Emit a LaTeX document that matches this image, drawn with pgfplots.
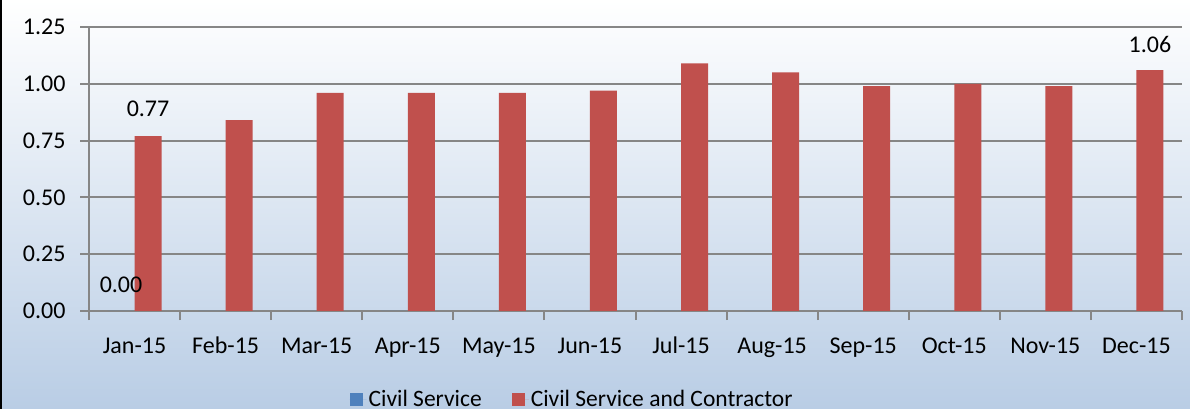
\documentclass[border=0pt]{standalone}
\usepackage{pgfplots}
\pgfplotsset{compat=1.18}
\usepackage{fontspec}
\setmainfont{Carlito}
\definecolor{csblue}{HTML}{4F81BD}
\definecolor{csred}{HTML}{C0504D}
\definecolor{gridgray}{HTML}{868686}
\definecolor{bgbot}{HTML}{B9CDE5}
\begin{document}
\begin{tikzpicture}[x=1pt,y=1pt]
\path[use as bounding box] (0,0) rectangle (1190,409);
\shade[top color=white, bottom color=bgbot] (0,0) rectangle (1190,409);
\fill[black] (0,0) rectangle (2,409);
\clip (0,0) rectangle (1190,409);
\begin{axis}[
  at={(89pt,98pt)}, anchor=south west,
  scale only axis, width=1093pt, height=284pt,
  xmin=-0.5, xmax=11.5, ymin=0, ymax=1.25,
  ybar=0pt, bar width=27pt,
  axis x line*=bottom, axis y line*=left,
  axis line style={gridgray, line width=2pt},
  ymajorgrids, major grid style={gridgray, line width=2pt},
  tick align=outside,
  ytick={0,0.25,0.5,0.75,1,1.25},
  major tick length=9pt, minor tick length=9pt,
  y tick style={gridgray, line width=2pt},
  xtick={0,...,11},
  xticklabels={Jan-15,Feb-15,Mar-15,Apr-15,May-15,Jun-15,Jul-15,Aug-15,Sep-15,Oct-15,Nov-15,Dec-15},
  major x tick style={draw=none},
  minor xtick={-0.5,0.5,...,11.5},
  minor x tick style={gridgray, line width=2pt},
  ticklabel style={font=\fontsize{24}{28}\selectfont, text=black},
  yticklabel style={xshift=-11pt, /pgf/number format/.cd, fixed, fixed zerofill, precision=2, assume math mode=true},
  xticklabel style={yshift=-13pt, text height=17pt, text depth=5pt},
  legend style={at={(0.442,-0.31)}, anchor=center, draw=none, fill=none,
    legend columns=2, font=\fontsize{23.5}{27}\selectfont,
    /tikz/every even column/.append style={column sep=28pt}},
  legend image code/.code={\fill[#1,draw=none] (0pt,-6.5pt) rectangle (13pt,6.5pt); \path (0pt,0pt) -- (17pt,0pt);},
  clip=false,
]
\addplot[fill=csblue, draw=none] coordinates {(0,0) (1,0) (2,0) (3,0) (4,0) (5,0) (6,0) (7,0) (8,0) (9,0) (10,0) (11,0)};
\addplot[fill=csred, draw=none] coordinates {(0,0.77) (1,0.84) (2,0.96) (3,0.96) (4,0.96) (5,0.97) (6,1.09) (7,1.05) (8,0.99) (9,1.00) (10,0.99) (11,1.06)};
\legend{Civil Service, Civil Service and Contractor}
\node[font=\fontsize{24}{28}\selectfont, xshift=-13.5pt, yshift=26pt] at (axis cs:0,0) {0.00};
\node[font=\fontsize{24}{28}\selectfont, xshift=13.5pt, yshift=27pt] at (axis cs:0,0.77) {0.77};
\node[font=\fontsize{24}{28}\selectfont, xshift=13.5pt, yshift=26pt] at (axis cs:11,1.06) {1.06};
\end{axis}
\end{tikzpicture}
\end{document}
